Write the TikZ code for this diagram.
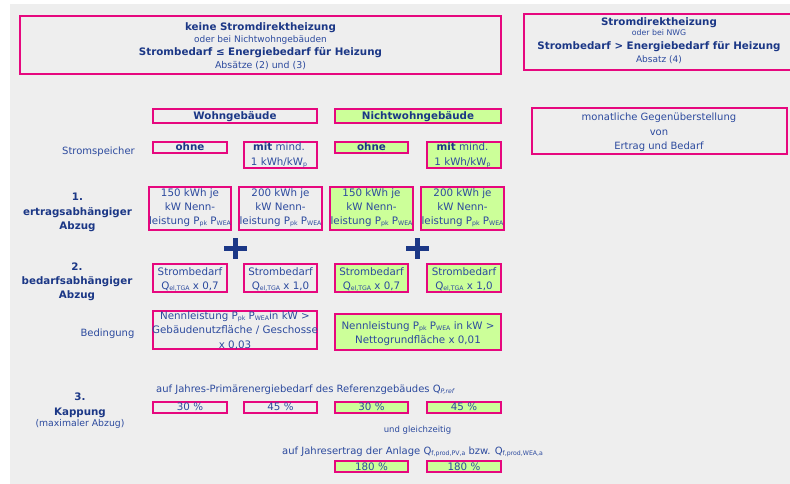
\documentclass[tikz,border=0pt]{standalone}
\usepackage{fontspec}
\setmainfont{DejaVu Sans}
\definecolor{pinkc}{HTML}{E6077E}
\definecolor{limec}{HTML}{CCFF99}
\definecolor{navyB}{HTML}{1B3786}
\definecolor{navyR}{HTML}{2C4A9E}
\definecolor{bgc}{HTML}{EEEEEE}
\newcommand\sbs[1]{\raisebox{-0.3ex}{\fontsize{6.2}{7}\selectfont #1}}
\newcommand\mybox[6]{\node[#1, minimum width={#5-#3-1.6}, minimum height={#6-#4-1.6}] (#2) at ({(#3+#5)/2},{(#4+#6)/2}) {};}
\tikzset{
  pbox/.style={draw=pinkc, line width=1.7pt, inner sep=0pt, rectangle},
  wbox/.style={pbox},
  gbox/.style={pbox, fill=limec},
  t/.style={inner sep=0pt, anchor=base, text=navyR, font=\fontsize{10.3}{12}\selectfont},
  tr/.style={t, font=\fontsize{10}{12}\selectfont},
  tb/.style={t, text=navyB, font=\fontsize{10.3}{12}\selectfont\bfseries},
  ts/.style={t, font=\fontsize{9}{11}\selectfont},
  plusline/.style={draw=navyB, line width=5pt},
}
\begin{document}
\begin{tikzpicture}[x=1pt,y=-1pt]
\useasboundingbox (0,0) rectangle (790,484);
\fill[white] (0,0) rectangle (790,484);
\fill[bgc] (10,4) rectangle (790,484);

% boxes
\mybox{wbox}{topL}{19}{15}{502}{75}
\mybox{wbox}{topR}{523}{13}{794}{71}
\mybox{wbox}{wohn}{152}{108}{318}{124}
\mybox{gbox}{nwohn}{334}{108}{502}{124}
\mybox{wbox}{ohneW}{152}{141}{228}{154}
\mybox{wbox}{mitW}{243}{141}{318}{169}
\mybox{gbox}{ohneNW}{334}{141}{409}{154}
\mybox{gbox}{mitNW}{426}{141}{502}{169}
\mybox{wbox}{monat}{531}{107}{788}{155}
\mybox{wbox}{eA}{148}{186}{232}{231}
\mybox{wbox}{eB}{238}{186}{323}{231}
\mybox{gbox}{eC}{329}{186}{414}{231}
\mybox{gbox}{eD}{420}{186}{505}{231}
\mybox{wbox}{bA}{152}{263}{228}{293}
\mybox{wbox}{bB}{243}{263}{318}{293}
\mybox{gbox}{bC}{334}{263}{409}{293}
\mybox{gbox}{bD}{426}{263}{502}{293}
\mybox{wbox}{cW}{152}{310}{318}{350}
\mybox{gbox}{cNW}{334}{313}{502}{351}
\mybox{wbox}{kA}{152}{401}{228}{414}
\mybox{wbox}{kB}{243}{401}{318}{414}
\mybox{gbox}{kC}{334}{401}{409}{414}
\mybox{gbox}{kD}{426}{401}{502}{414}
\mybox{gbox}{jC}{334}{460}{409}{473}
\mybox{gbox}{jD}{426}{460}{502}{473}

% top left box text
\node[tb] (tl1) at (260.5,30.7) {keine Stromdirektheizung};
\node[ts] (tl2) at (260.5,42.7) {oder bei Nichtwohngebäuden};
\node[tb] (tl3) at (260.5,56) {Strombedarf ≤ Energiebedarf für Heizung};
\node[t, font=\fontsize{9.4}{11}\selectfont] (tl4) at (260.5,69) {Absätze (2) und (3)};

% top right box text
\node[tb] (tr1) at (659,25.3) {Stromdirektheizung};
\node[t, font=\fontsize{7.8}{9}\selectfont] (tr2) at (659,36) {oder bei NWG};
\node[tb] (tr3) at (659,50) {Strombedarf > Energiebedarf für Heizung};
\node[ts] (tr4) at (659,63) {Absatz (4)};

% monthly comparison
\node[tr] (mo1) at (659,121) {monatliche Gegenüberstellung};
\node[tr] (mo2) at (659,135.7) {von};
\node[tr] (mo3) at (659,149.3) {Ertrag und Bedarf};

% column headers
\node[tb] (hW) at (235,120) {Wohngebäude};
\node[tb] (hNW) at (418,120) {Nichtwohngebäude};

% Stromspeicher row
\node[tr] (lsp) at (98.5,154.5) {Stromspeicher};
\node[tb] (oW) at (190,150) {ohne};
\node[t] (mW1) at (279,150) {\textbf{\color{navyB}mit} mind.};
\node[t] (mW2) at (279,165) {1 kWh/kW\sbs{p}};
\node[tb] (oNW) at (371.5,150) {ohne};
\node[t] (mNW1) at (462.5,150) {\textbf{\color{navyB}mit} mind.};
\node[t] (mNW2) at (462.5,165) {1 kWh/kW\sbs{p}};

% 1. ertragsabhaengiger Abzug
\node[tb] (l11) at (77.5,200.7) {1.};
\node[tb] (l12) at (77.5,215) {ertragsabhängiger};
\node[tb] (l13) at (77.5,229) {Abzug};
\node[t] (eA1) at (190,196.7) {150 kWh je};
\node[t] (eA2) at (190,210) {kW Nenn-};
\node[t] (eA3) at (190,224.3) {leistung P\sbs{pk} P\sbs{WEA}};
\node[t] (eB1) at (280.5,196.7) {200 kWh je};
\node[t] (eB2) at (280.5,210) {kW Nenn-};
\node[t] (eB3) at (280.5,224.3) {leistung P\sbs{pk} P\sbs{WEA}};
\node[t] (eC1) at (371.5,196.7) {150 kWh je};
\node[t] (eC2) at (371.5,210) {kW Nenn-};
\node[t] (eC3) at (371.5,224.3) {leistung P\sbs{pk} P\sbs{WEA}};
\node[t] (eD1) at (462.5,196.7) {200 kWh je};
\node[t] (eD2) at (462.5,210) {kW Nenn-};
\node[t] (eD3) at (462.5,224.3) {leistung P\sbs{pk} P\sbs{WEA}};

% plus signs
\draw[plusline] (235.5,238) -- (235.5,259) (224,248.5) -- (247,248.5);
\draw[plusline] (417.5,238) -- (417.5,259) (406,248.5) -- (429,248.5);

% 2. bedarfsabhaengiger Abzug
\node[tb] (l21) at (77,270) {2.};
\node[tb] (l22) at (77,284) {bedarfsabhängiger};
\node[tb] (l23) at (77,298) {Abzug};
\node[t] (bA1) at (190,275) {Strombedarf};
\node[t] (bA2) at (190,289) {Q\sbs{el,TGA} x 0,7};
\node[t] (bB1) at (280.5,275) {Strombedarf};
\node[t] (bB2) at (280.5,289) {Q\sbs{el,TGA} x 1,0};
\node[t] (bC1) at (371.5,275) {Strombedarf};
\node[t] (bC2) at (371.5,289) {Q\sbs{el,TGA} x 0,7};
\node[t] (bD1) at (464,275) {Strombedarf};
\node[t] (bD2) at (464,289) {Q\sbs{el,TGA} x 1,0};

% Bedingung
\node[tr] (lbed) at (107.5,336.5) {Bedingung};
\node[t] (cW1) at (235,319.3) {Nennleistung P\sbs{pk} P\sbs{WEA}in kW >};
\node[t] (cW2) at (235,333.3) {Gebäudenutzfläche / Geschosse};
\node[t] (cW3) at (235,348.3) {x 0,03};
\node[t] (cN1) at (418,329.3) {Nennleistung P\sbs{pk} P\sbs{WEA} in kW >};
\node[t] (cN2) at (418,343.3) {Nettogrundfläche x 0,01};

% 3. Kappung
\node[tb] (l31) at (80,400.7) {3.};
\node[tb] (l32) at (80,415) {Kappung};
\node[t, font=\fontsize{9.3}{11}\selectfont] (l33) at (80,426.7) {(maximaler Abzug)};
\node[tr, anchor=base west] (k0) at (156,392) {auf Jahres-Primärenergiebedarf des Referenzgebäudes Q\sbs{\itshape P,ref}};
\node[t] (kA1) at (190,410) {30 \%};
\node[t] (kB1) at (280.5,410) {45 \%};
\node[t] (kC1) at (371.5,410) {30 \%};
\node[t] (kD1) at (464,410) {45 \%};
\node[t, font=\fontsize{8.5}{10}\selectfont] (ug) at (417.5,432.7) {und gleichzeitig};
\node[tr, anchor=base west] (j0) at (282,454) {auf Jahresertrag der Anlage Q\sbs{f,prod,PV,a} bzw. Q\sbs{f,prod,WEA,a}};
\node[t] (jC1) at (371.5,470.7) {180 \%};
\node[t] (jD1) at (464,470.7) {180 \%};
\end{tikzpicture}
\end{document}
